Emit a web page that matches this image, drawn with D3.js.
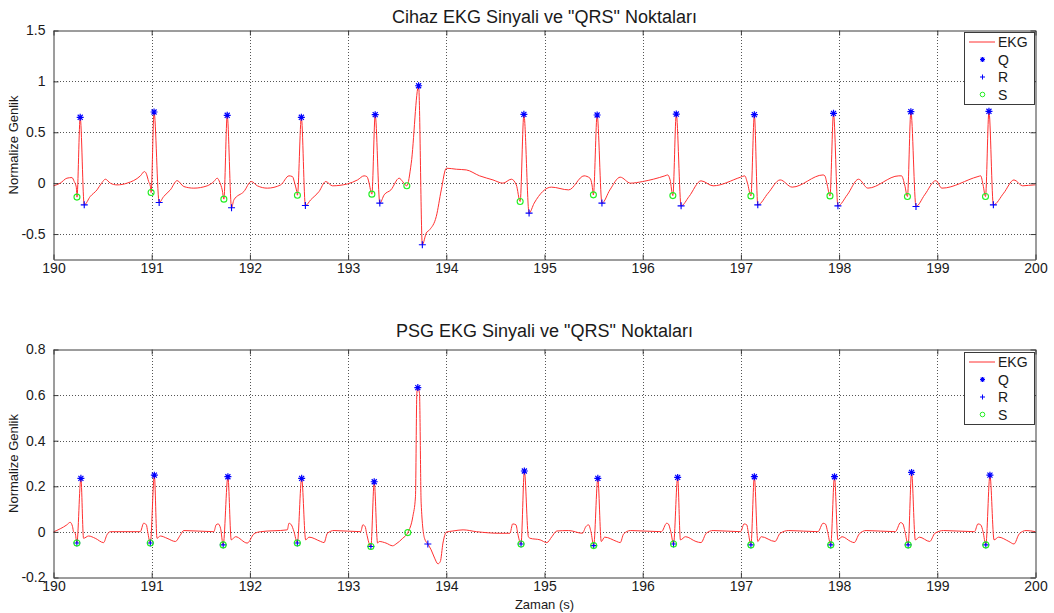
<!DOCTYPE html>
<html>
<head>
<meta charset="utf-8">
<script src="https://cdn.jsdelivr.net/npm/d3@7"></script>
<style>
  html, body { margin: 0; padding: 0; background: #fff; }
  svg { display: block; font-family: "Liberation Sans", Arial, sans-serif; }
</style>
</head>
<body>
<svg id="chart" width="1054" height="613"></svg>
<script>
// ---- axis ticks ----
const timeTicks = [190, 191, 192, 193, 194, 195, 196, 197, 198, 199, 200];
const deviceTicks = [-0.5, 0, 0.5, 1, 1.5];
const psgTicks = [-0.2, 0, 0.2, 0.4, 0.6, 0.8];
const legendLabels = ["EKG", "Q", "R", "S"];

// ---- device ECG trace [time (s), normalized amplitude] ----
const deviceTrace = [
  [190.000,-0.026],[190.068,0.000],[190.137,0.049],[190.188,0.055],[190.211,0.016],[190.232,-0.039],
  [190.239,-0.137],[190.272,0.647],[190.313,-0.213],[190.374,-0.131],[190.443,-0.066],[190.494,0.006],
  [190.528,0.039],[190.579,0.000],[190.647,-0.017],[190.749,0.000],[190.885,0.072],[190.926,0.114],
  [190.943,0.098],[190.969,0.016],[190.987,-0.033],[190.994,-0.092],[191.024,0.699],[191.076,-0.190],
  [191.122,-0.131],[191.190,-0.066],[191.259,0.025],[191.327,-0.033],[191.429,-0.049],[191.565,-0.026],
  [191.633,0.016],[191.667,0.049],[191.694,0.006],[191.718,-0.066],[191.735,-0.157],[191.769,0.667],
  [191.813,-0.242],[191.837,-0.164],[191.939,-0.082],[192.014,0.016],[192.076,-0.026],[192.178,-0.049],
  [192.313,-0.017],[192.398,0.072],[192.433,0.065],[192.456,0.000],[192.477,-0.082],[192.484,-0.118],
  [192.524,0.647],[192.565,-0.220],[192.619,-0.164],[192.704,-0.082],[192.772,0.016],[192.841,-0.026],
  [192.994,-0.007],[193.096,0.032],[193.163,0.072],[193.191,0.065],[193.214,0.000],[193.232,-0.082],
  [193.242,-0.108],[193.276,0.673],[193.323,-0.196],[193.367,-0.115],[193.436,-0.066],[193.520,0.049],
  [193.555,0.016],[193.580,-0.015],[193.598,-0.026],[193.643,0.196],[193.718,0.957],[193.756,-0.605],
  [193.796,-0.490],[193.830,-0.458],[193.898,-0.327],[193.949,-0.066],[194.000,0.147],[194.102,0.137],
  [194.204,0.130],[194.339,0.072],[194.475,0.032],[194.577,0.000],[194.662,0.039],[194.713,-0.017],
  [194.752,-0.180],[194.790,0.676],[194.843,-0.294],[194.895,-0.196],[195.070,-0.039],[195.246,-0.066],
  [195.403,0.072],[195.463,0.049],[195.484,-0.017],[195.498,-0.115],[195.536,0.670],[195.585,-0.196],
  [195.666,-0.066],[195.771,0.059],[195.876,0.000],[195.999,0.016],[196.226,0.072],[196.254,0.081],
  [196.279,0.032],[196.307,-0.122],[196.342,0.679],[196.391,-0.223],[196.472,-0.131],[196.594,0.023],
  [196.717,-0.026],[196.997,0.059],[197.039,0.072],[197.067,0.000],[197.102,-0.125],[197.137,0.673],
  [197.172,-0.213],[197.277,-0.098],[197.400,0.032],[197.522,-0.039],[197.837,0.081],[197.855,0.072],
  [197.879,-0.017],[197.907,-0.125],[197.943,0.686],[197.988,-0.223],[198.083,-0.115],[198.198,0.039],
  [198.293,-0.049],[198.608,0.072],[198.636,0.072],[198.668,-0.017],[198.696,-0.131],[198.731,0.702],
  [198.783,-0.229],[198.871,-0.115],[198.986,0.025],[199.046,-0.049],[199.414,0.065],[199.442,0.072],
  [199.466,-0.017],[199.491,-0.131],[199.526,0.706],[199.571,-0.213],[199.676,-0.098],[199.781,0.032],
  [199.869,-0.026],[199.991,-0.017],[200.000,-0.017]
];
const deviceQ = [
  [190.272,0.647],[191.024,0.699],[191.769,0.667],[192.524,0.647],[193.276,0.673],[193.718,0.957],
  [194.790,0.676],[195.536,0.670],[196.342,0.679],[197.137,0.673],[197.943,0.686],[198.731,0.702],[199.526,0.706]
];
const deviceR = [
  [190.313,-0.213],[191.076,-0.190],[191.813,-0.242],[192.565,-0.220],[193.323,-0.196],[193.756,-0.605],
  [194.843,-0.294],[195.585,-0.196],[196.391,-0.223],[197.172,-0.213],[197.988,-0.223],[198.783,-0.229],[199.571,-0.213]
];
const deviceS = [
  [190.239,-0.137],[190.994,-0.092],[191.735,-0.157],[192.484,-0.118],[193.242,-0.108],[193.598,-0.026],
  [194.752,-0.180],[195.498,-0.115],[196.307,-0.122],[197.102,-0.125],[197.907,-0.125],[198.696,-0.131],[199.491,-0.131]
];

// ---- PSG ECG trace [time (s), normalized amplitude] ----
const psgTrace = [
  [190.000,0.000],[190.136,0.031],[190.170,0.042],[190.194,0.023],[190.204,0.001],[190.221,-0.006],
  [190.238,-0.049],[190.279,0.235],[190.306,-0.028],[190.357,-0.018],[190.425,-0.028],[190.510,-0.047],
  [190.544,-0.013],[190.578,0.001],[190.884,0.001],[190.918,0.038],[190.946,0.031],[190.959,0.001],
  [190.986,-0.049],[191.027,0.249],[191.054,-0.028],[191.088,-0.018],[191.156,-0.028],[191.241,-0.042],
  [191.293,-0.013],[191.327,0.006],[191.633,0.001],[191.656,0.031],[191.677,0.035],[191.701,0.016],
  [191.728,-0.057],[191.776,0.242],[191.810,-0.035],[191.854,-0.021],[191.973,-0.049],[192.041,-0.009],
  [192.109,0.001],[192.381,0.009],[192.398,0.038],[192.422,0.031],[192.449,0.001],[192.483,-0.049],
  [192.527,0.235],[192.568,-0.035],[192.602,-0.023],[192.721,-0.042],[192.755,-0.047],[192.789,-0.006],
  [192.857,0.006],[193.129,0.001],[193.150,0.031],[193.174,0.023],[193.188,-0.006],[193.232,-0.064],
  [193.266,0.220],[193.300,-0.049],[193.317,-0.042],[193.386,-0.049],[193.454,-0.061],[193.488,-0.053],
  [193.556,-0.028],[193.608,-0.003],[193.659,0.067],[193.686,0.154],[193.700,0.607],[193.710,0.633],
  [193.727,0.607],[193.744,0.126],[193.778,-0.028],[193.812,-0.053],[193.846,-0.079],[193.881,-0.115],
  [193.915,-0.140],[193.939,-0.130],[193.966,-0.049],[194.000,-0.001],[194.068,0.004],[194.171,0.009],
  [194.307,0.001],[194.546,-0.006],[194.648,-0.006],[194.676,0.035],[194.710,0.031],[194.727,-0.006],
  [194.761,-0.053],[194.795,0.267],[194.836,-0.021],[194.853,-0.028],[194.956,-0.035],[195.024,-0.047],
  [195.075,-0.021],[195.126,0.004],[195.246,0.006],[195.386,-0.006],[195.421,0.023],[195.449,0.031],
  [195.473,0.001],[195.501,-0.060],[195.543,0.235],[195.578,-0.042],[195.613,-0.023],[195.736,-0.042],
  [195.771,-0.047],[195.806,-0.009],[195.876,0.006],[196.191,0.001],[196.244,0.038],[196.261,0.035],
  [196.286,0.001],[196.314,-0.053],[196.356,0.239],[196.384,-0.035],[196.436,-0.021],[196.542,-0.042],
  [196.594,-0.047],[196.647,-0.006],[196.717,0.006],[196.997,0.001],[197.032,0.035],[197.060,0.031],
  [197.074,0.001],[197.102,-0.057],[197.137,0.242],[197.172,-0.042],[197.207,-0.021],[197.347,-0.042],
  [197.400,-0.006],[197.487,0.006],[197.785,0.001],[197.837,0.038],[197.862,0.034],[197.883,0.001],
  [197.915,-0.057],[197.953,0.242],[197.988,-0.035],[198.030,-0.021],[198.118,-0.042],[198.153,-0.047],
  [198.205,-0.009],[198.275,0.006],[198.573,0.001],[198.626,0.041],[198.650,0.035],[198.671,0.001],
  [198.703,-0.057],[198.738,0.261],[198.776,-0.035],[198.818,-0.023],[198.923,-0.042],[198.976,-0.006],
  [199.063,0.006],[199.379,0.001],[199.414,0.035],[199.442,0.031],[199.466,0.001],[199.494,-0.057],
  [199.536,0.249],[199.578,-0.035],[199.624,-0.023],[199.729,-0.042],[199.781,-0.053],[199.834,-0.009],
  [199.904,0.006],[200.000,0.001]
];
const psgQ = [
  [190.279,0.235],[191.027,0.249],[191.776,0.242],[192.527,0.235],[193.266,0.220],[193.710,0.633],
  [194.795,0.267],[195.543,0.235],[196.356,0.239],[197.137,0.242],[197.953,0.242],[198.738,0.261],[199.536,0.249]
];
const psgR = [
  [190.238,-0.049],[190.986,-0.049],[191.728,-0.057],[192.483,-0.049],[193.232,-0.064],[193.812,-0.053],
  [194.761,-0.053],[195.501,-0.060],[196.314,-0.053],[197.102,-0.057],[197.915,-0.057],[198.703,-0.057],[199.494,-0.057]
];
const psgS = [
  [190.238,-0.049],[190.986,-0.049],[191.728,-0.057],[192.483,-0.049],[193.232,-0.064],[193.608,-0.003],
  [194.761,-0.053],[195.501,-0.060],[196.314,-0.053],[197.102,-0.057],[197.915,-0.057],[198.703,-0.057],[199.494,-0.057]
];

// ---- drawing ----
const svg = d3.select("#chart");
const LEFT = 53.5, RIGHT = 1035.5;
const x = d3.scaleLinear().domain([190, 200]).range([LEFT, RIGHT]);

const AXIS_COLOR = "#3a3a3a";
const TEXT_COLOR = "#1a1a1a";
const LINE_RED = "#ff3030";
const BLUE = "#0000ff";
const GREEN = "#22ee22";

function starPath(px, py, r) {
  const d = r * 0.72;
  return `M${px - r},${py}H${px + r}M${px},${py - r}V${py + r}` +
         `M${px - d},${py - d}L${px + d},${py + d}M${px - d},${py + d}L${px + d},${py - d}`;
}
function plusPath(px, py, r) {
  return `M${px - r},${py}H${px + r}M${px},${py - r}V${py + r}`;
}

function drawPanel(opt) {
  const { top, bottom } = opt;
  const y = d3.scaleLinear().domain(opt.domain).range([bottom, top]);
  const g = svg.append("g");
  const h = bottom - top, w = RIGHT - LEFT;

  // dotted grid
  const vGrid = g.append("g").attr("transform", `translate(0,${bottom})`)
    .call(d3.axisBottom(x).tickValues(timeTicks.slice(1, -1)).tickSize(-h).tickFormat(""));
  const hGrid = g.append("g").attr("transform", `translate(${LEFT},0)`)
    .call(d3.axisLeft(y).tickValues(opt.ticks.filter(t => t > opt.domain[0] && t < opt.domain[1])).tickSize(-w).tickFormat(""));
  [vGrid, hGrid].forEach(a => {
    a.select(".domain").remove();
    a.selectAll(".tick line").attr("stroke", "#555").attr("stroke-dasharray", "1,2").attr("shape-rendering", "crispEdges");
  });

  // title
  g.append("text").attr("x", (LEFT + RIGHT) / 2).attr("y", opt.titleY)
    .attr("text-anchor", "middle").attr("font-size", 18).attr("fill", TEXT_COLOR).text(opt.title);

  // y label
  g.append("text").attr("transform", `translate(18,${(top + bottom) / 2}) rotate(-90)`)
    .attr("text-anchor", "middle").attr("font-size", 13).attr("fill", TEXT_COLOR).text("Normalize Genlik");

  // signal
  const line = d3.line().x(d => x(d[0])).y(d => y(d[1])).curve(d3.curveMonotoneX);
  g.append("path").datum(opt.trace).attr("d", line)
    .attr("fill", "none").attr("stroke", LINE_RED).attr("stroke-width", 1).attr("stroke-linejoin", "round");

  // QRS markers
  g.append("g").selectAll("path").data(opt.q).join("path")
    .attr("d", d => starPath(x(d[0]), y(d[1]), 3.5)).attr("stroke", BLUE).attr("stroke-width", 1.2).attr("fill", "none");
  g.append("g").selectAll("path").data(opt.r).join("path")
    .attr("d", d => plusPath(x(d[0]), y(d[1]), 3.5)).attr("stroke", BLUE).attr("stroke-width", 1.1).attr("fill", "none");
  g.append("g").selectAll("circle").data(opt.s).join("circle")
    .attr("cx", d => x(d[0])).attr("cy", d => y(d[1])).attr("r", 3)
    .attr("stroke", GREEN).attr("stroke-width", 1.1).attr("fill", "none");

  // axes with inward ticks on all four sides
  const styleAxis = a => {
    a.select(".domain").attr("stroke", AXIS_COLOR);
    a.selectAll(".tick line").attr("stroke", AXIS_COLOR);
    a.selectAll(".tick text").attr("fill", TEXT_COLOR).attr("font-size", 14)
      .attr("font-family", '"Liberation Sans", Arial, sans-serif');
  };
  const xb = g.append("g").attr("transform", `translate(0,${bottom})`)
    .call(d3.axisBottom(x).tickValues(timeTicks).tickSizeInner(-5).tickSizeOuter(0).tickPadding(4).tickFormat(d => String(d)));
  styleAxis(xb);
  const xt = g.append("g").attr("transform", `translate(0,${top})`)
    .call(d3.axisTop(x).tickValues(timeTicks).tickSizeInner(-5).tickSizeOuter(0).tickFormat(""));
  styleAxis(xt);
  const yl = g.append("g").attr("transform", `translate(${LEFT},0)`)
    .call(d3.axisLeft(y).tickValues(opt.ticks).tickSizeInner(-5).tickSizeOuter(0).tickPadding(8).tickFormat(d => String(d)));
  styleAxis(yl);
  const yr = g.append("g").attr("transform", `translate(${RIGHT},0)`)
    .call(d3.axisRight(y).tickValues(opt.ticks).tickSizeInner(-5).tickSizeOuter(0).tickFormat(""));
  styleAxis(yr);

  // legend
  const lg = g.append("g").attr("transform", `translate(964,${opt.legendTop})`);
  lg.append("rect").attr("x", 0.5).attr("y", 0.5).attr("width", 70).attr("height", 72)
    .attr("fill", "#fff").attr("stroke", AXIS_COLOR);
  const rowY = [10, 27.5, 45, 62.5];
  lg.append("line").attr("x1", 5).attr("x2", 31).attr("y1", rowY[0]).attr("y2", rowY[0])
    .attr("stroke", LINE_RED).attr("stroke-width", 1);
  lg.append("path").attr("d", starPath(18.5, rowY[1], 2.5)).attr("stroke", BLUE).attr("stroke-width", 1.2);
  lg.append("path").attr("d", plusPath(18.5, rowY[2], 2.5)).attr("stroke", BLUE).attr("stroke-width", 1);
  lg.append("circle").attr("cx", 18.5).attr("cy", rowY[3]).attr("r", 2.3)
    .attr("fill", "none").attr("stroke", GREEN).attr("stroke-width", 1);
  lg.selectAll("text.lbl").data(legendLabels).join("text").attr("class", "lbl")
    .attr("x", 34).attr("y", (d, i) => rowY[i]).attr("dy", "0.36em")
    .attr("font-size", 14).attr("fill", TEXT_COLOR).text(d => d);
}

drawPanel({
  title: 'Cihaz EKG Sinyali ve "QRS" Noktaları', titleY: 23,
  top: 30.5, bottom: 259.5, domain: [-0.75, 1.5], ticks: deviceTicks,
  trace: deviceTrace, q: deviceQ, r: deviceR, s: deviceS, legendTop: 32
});
drawPanel({
  title: 'PSG EKG Sinyali ve "QRS" Noktaları', titleY: 337,
  top: 349.5, bottom: 577.5, domain: [-0.2, 0.8], ticks: psgTicks,
  trace: psgTrace, q: psgQ, r: psgR, s: psgS, legendTop: 352
});

svg.append("text").attr("x", (LEFT + RIGHT) / 2).attr("y", 609)
  .attr("text-anchor", "middle").attr("font-size", 13).attr("fill", TEXT_COLOR).text("Zaman (s)");
</script>
</body>
</html>
